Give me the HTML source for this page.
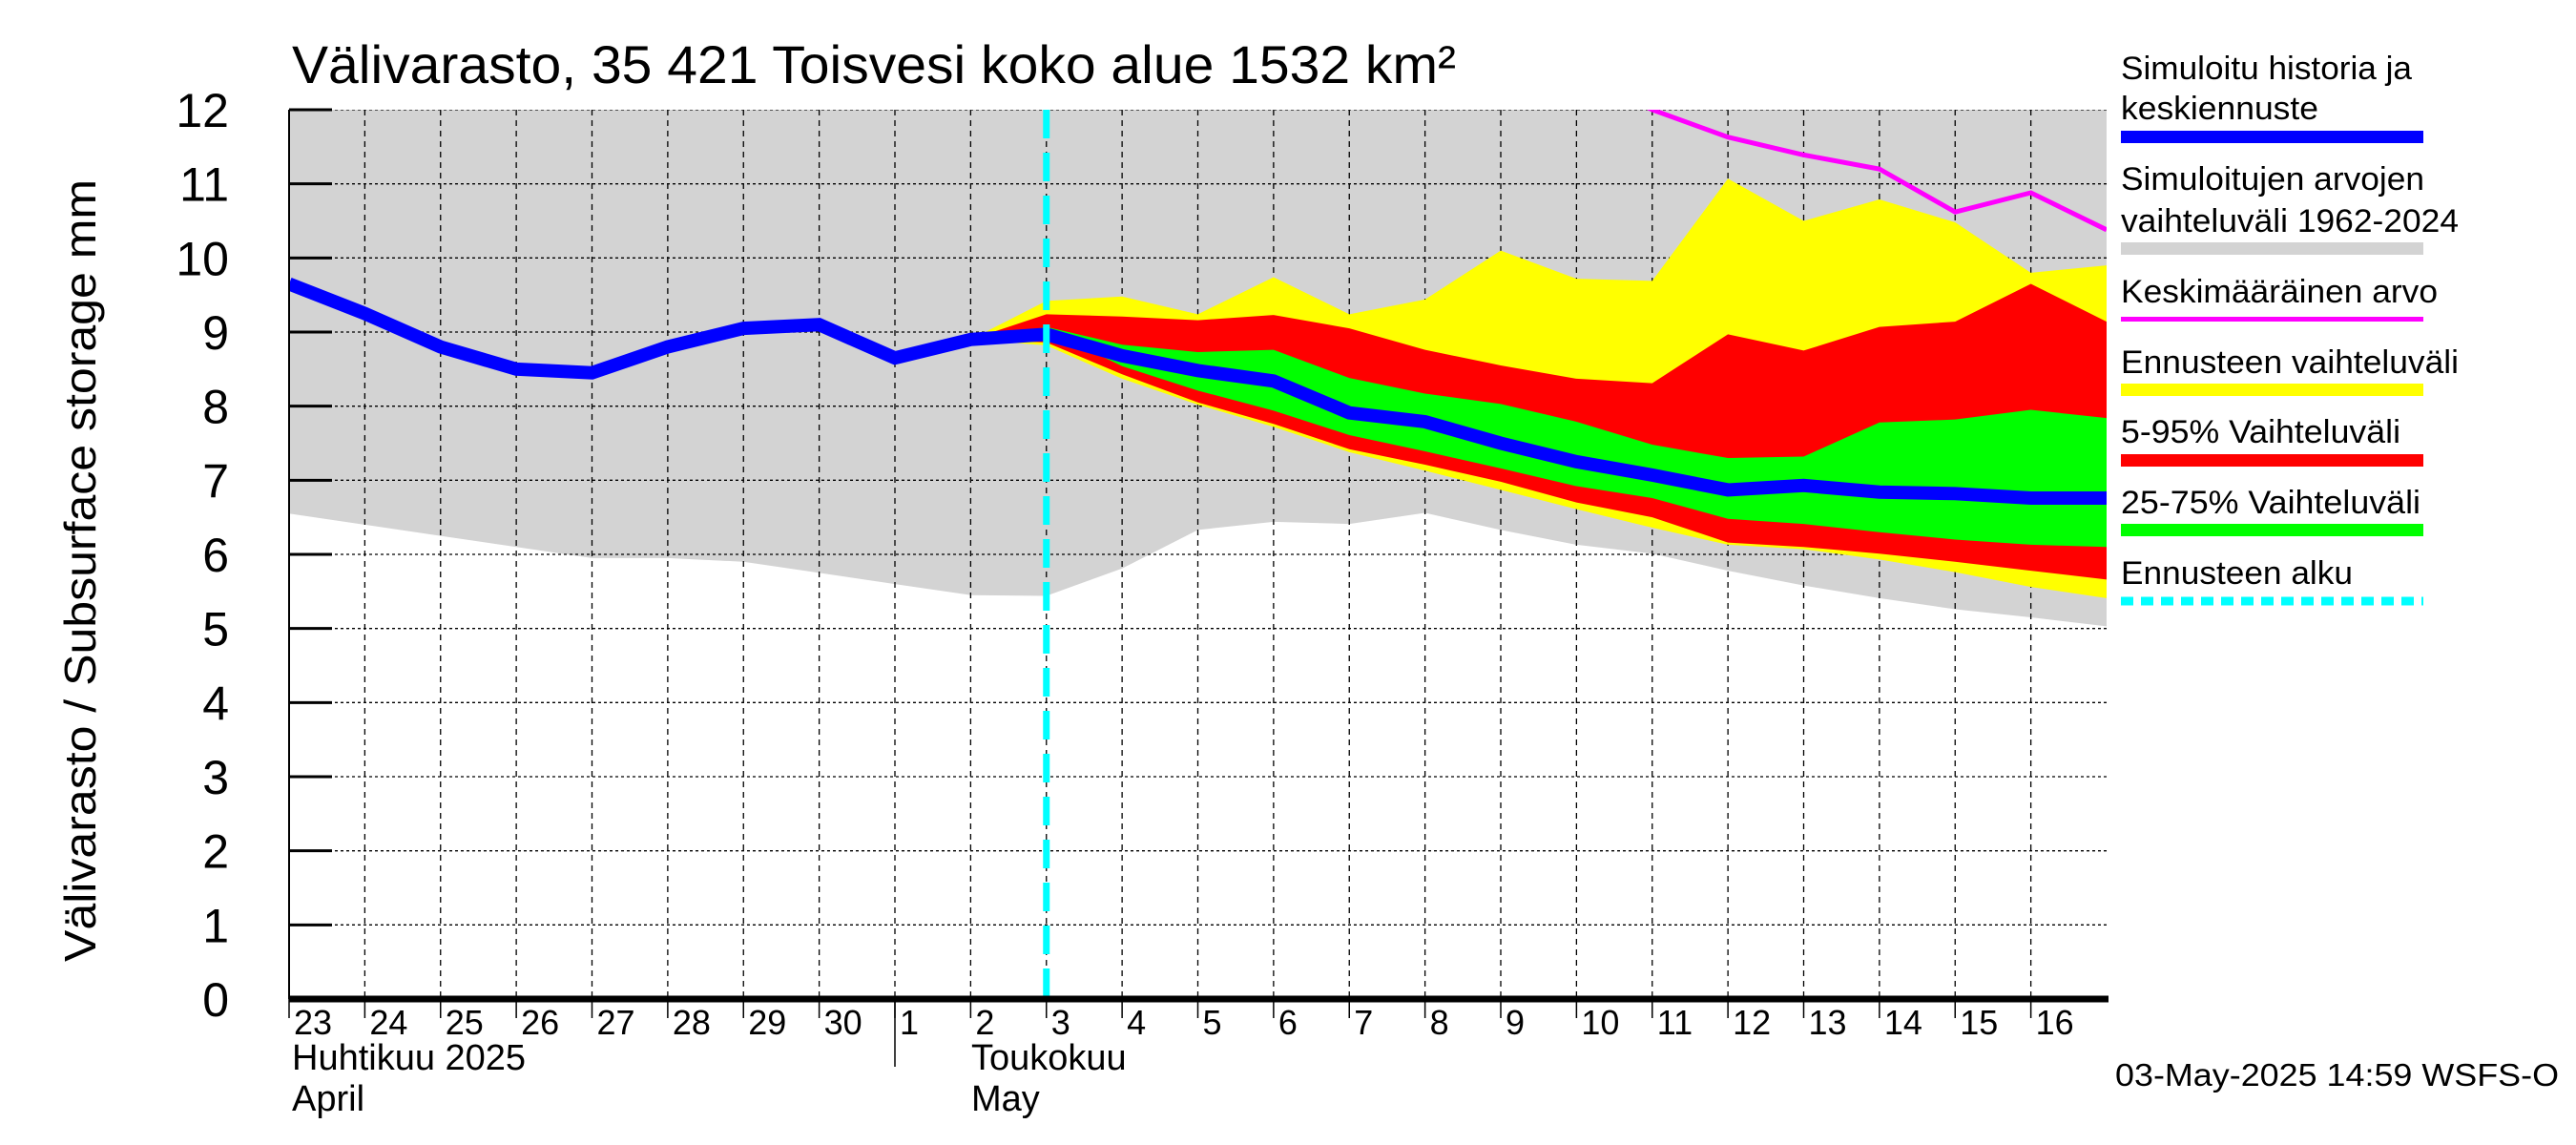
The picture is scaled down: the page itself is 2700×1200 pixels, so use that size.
<!DOCTYPE html>
<html><head><meta charset="utf-8"><style>
html,body{margin:0;padding:0;background:#fff;}
svg{display:block;font-family:"Liberation Sans",Arial,sans-serif;}
</style></head><body>
<svg id="chart" width="2700" height="1200" viewBox="0 0 2700 1200" xmlns="http://www.w3.org/2000/svg">
<text x="306" y="87" font-size="56" textLength="1220" lengthAdjust="spacingAndGlyphs">Välivarasto, 35 421 Toisvesi koko alue 1532 km²</text>
<text transform="translate(100,598) rotate(-90)" text-anchor="middle" font-size="46" textLength="820" lengthAdjust="spacingAndGlyphs">Välivarasto / Subsurface storage  mm</text>
<g id="plot"></g>
<g id="legend">
<text x="2223" y="83" font-size="34" textLength="305" lengthAdjust="spacingAndGlyphs">Simuloitu historia ja</text>
<text x="2223" y="125" font-size="34" textLength="207" lengthAdjust="spacingAndGlyphs">keskiennuste</text>
<rect x="2223" y="137" width="317" height="13" fill="#0000ff"/>
<text x="2223" y="199" font-size="34" textLength="318" lengthAdjust="spacingAndGlyphs">Simuloitujen arvojen</text>
<text x="2223" y="243" font-size="34" textLength="354" lengthAdjust="spacingAndGlyphs">vaihteluväli 1962-2024</text>
<rect x="2223" y="254" width="317" height="13" fill="#d3d3d3"/>
<text x="2223" y="317" font-size="34" textLength="332" lengthAdjust="spacingAndGlyphs">Keskimääräinen arvo</text>
<rect x="2223" y="332" width="317" height="5" fill="#ff00ff"/>
<text x="2223" y="391" font-size="34" textLength="354" lengthAdjust="spacingAndGlyphs">Ennusteen vaihteluväli</text>
<rect x="2223" y="402" width="317" height="13" fill="#ffff00"/>
<text x="2223" y="464" font-size="34" textLength="293" lengthAdjust="spacingAndGlyphs">5-95% Vaihteluväli</text>
<rect x="2223" y="476" width="317" height="13" fill="#ff0000"/>
<text x="2223" y="538" font-size="34" textLength="314" lengthAdjust="spacingAndGlyphs">25-75% Vaihteluväli</text>
<rect x="2223" y="549" width="317" height="13" fill="#00ff00"/>
<text x="2223" y="612" font-size="34" textLength="243" lengthAdjust="spacingAndGlyphs">Ennusteen alku</text>
<line x1="2223" y1="630" x2="2540" y2="630" stroke="#00ffff" stroke-width="9" stroke-dasharray="13,8"/>
</g>
<text x="306" y="1121" font-size="38">Huhtikuu  2025</text>
<text x="306" y="1164" font-size="38">April</text>
<text x="1018" y="1121" font-size="38">Toukokuu</text>
<text x="1018" y="1164" font-size="38">May</text>
<text x="2682" y="1138" font-size="33" text-anchor="end" textLength="465" lengthAdjust="spacingAndGlyphs">03-May-2025 14:59 WSFS-O</text>
</svg>
<script>
// Data (day index 0 = 23 Apr, 24 = 17 May)
const dayLabels = ["23","24","25","26","27","28","29","30","1","2","3","4","5","6","7","8","9","10","11","12","13","14","15","16"];
const yTicks = [0,1,2,3,4,5,6,7,8,9,10,11,12];
const blueVals = [9.65,9.25,8.8,8.5,8.45,8.8,9.05,9.1,8.65,8.9,8.97,8.68,8.48,8.34,7.91,7.79,7.5,7.25,7.07,6.87,6.93,6.84,6.82,6.76,6.76];
const grayMin = [6.55,6.4,6.25,6.1,5.95,5.95,5.9,5.75,5.6,5.45,5.44,5.81,6.33,6.44,6.41,6.56,6.33,6.13,6.01,5.78,5.58,5.41,5.26,5.15,5.03];
const grayMax = [13,13,13,13,13,13,13,13,13,13,13,13,13,13,13,13,13,13,13,13,13,13,13,13,13];
// forecast bands start at day 9 (2 May)
const fcStart = 9;
const ensMax = [8.9,9.42,9.48,9.24,9.74,9.24,9.44,10.1,9.72,9.69,11.07,10.5,10.79,10.48,9.8,9.9];
const p95 = [8.9,9.24,9.21,9.16,9.23,9.05,8.76,8.55,8.37,8.31,8.97,8.75,9.07,9.14,9.65,9.14];
const p75 = [8.9,9.07,8.83,8.73,8.76,8.38,8.17,8.03,7.79,7.48,7.30,7.32,7.78,7.82,7.95,7.84];
const p25 = [8.9,9.03,8.54,8.21,7.94,7.61,7.39,7.16,6.92,6.76,6.48,6.41,6.30,6.20,6.13,6.10];
const p5 = [8.9,8.86,8.43,8.05,7.76,7.42,7.21,6.98,6.70,6.50,6.16,6.10,6.01,5.90,5.78,5.66];
const ensMin = [8.9,8.82,8.37,8.02,7.72,7.38,7.13,6.87,6.61,6.36,6.13,6.07,5.93,5.76,5.56,5.41];
// mean curve starting at day 17 (10 May)
const meanStart = 17;
const meanVals = [12.5,12.0,11.63,11.39,11.2,10.62,10.88,10.38];
const forecastDay = 10;

const X0=303,X1=2208,Y0=1047,Y1=115,NDAYS=24,YMAX=12;
const xs = d => X0 + (X1-X0)*d/NDAYS;
const ys = v => Y0 - (Y0-Y1)*v/YMAX;
const NS="http://www.w3.org/2000/svg";
const plot=document.getElementById('plot');
function mk(tag,attrs,parent){const e=document.createElementNS(NS,tag);for(const k in attrs)e.setAttribute(k,attrs[k]);(parent||plot).appendChild(e);return e;}
const clip=mk('clipPath',{id:'pc'});mk('rect',{x:X0,y:Y1,width:X1-X0,height:Y0-Y1},clip);
const g=mk('g',{'clip-path':'url(#pc)'});


function band(up,lo,start,fill,name){
  let p=up.map((v,i)=>xs(start+i)+','+ys(v));
  let q=lo.map((v,i)=>xs(start+i)+','+ys(v)).reverse();
  const e=mk('polygon',{points:p.concat(q).join(' '),fill:fill},g);
  
  
}
band(grayMax,grayMin,0,'#d3d3d3','historical-range');
// grid
for(let d=1;d<NDAYS;d++){const l=mk('line',{x1:xs(d),x2:xs(d),y1:Y1,y2:Y0,stroke:'#000','stroke-width':1.3,'stroke-dasharray':'6,5'},g);

}
yTicks.forEach(v=>{if(v>0){const l=mk('line',{x1:X0,x2:X1,y1:ys(v),y2:ys(v),stroke:'#000','stroke-width':1.3,'stroke-dasharray':'3,3'},g);

}});
band(ensMax,ensMin,fcStart,'#ffff00','ensemble-range');
band(p95,p5,fcStart,'#ff0000','band-5-95');
band(p75,p25,fcStart,'#00ff00','band-25-75');
const mean=mk('polyline',{points:meanVals.map((v,i)=>xs(meanStart+i)+','+ys(v)).join(' '),fill:'none',stroke:'#ff00ff','stroke-width':5},g);


const blue=mk('polyline',{points:blueVals.map((v,i)=>xs(i)+','+ys(v)).join(' '),fill:'none',stroke:'#0000ff','stroke-width':14,'stroke-linejoin':'miter'},g);


const cy=mk('line',{x1:xs(forecastDay),x2:xs(forecastDay),y1:Y1,y2:Y0,stroke:'#00ffff','stroke-width':7,'stroke-dasharray':'30,15'});


// axes
const ax=mk('line',{x1:X0,x2:X1+2,y1:Y0,y2:Y0,stroke:'#000','stroke-width':7});


const ay=mk('line',{x1:X0,x2:X0,y1:Y1,y2:Y0,stroke:'#000','stroke-width':2});


yTicks.forEach(v=>{
  const t=mk('line',{x1:X0,x2:X0+45,y1:ys(v),y2:ys(v),stroke:'#000','stroke-width':3});
  
  
  const tx=mk('text',{x:240,y:ys(v)+18,'font-size':50,'text-anchor':'end'});
  tx.textContent=String(v);
  
  
});
dayLabels.forEach((s,i)=>{
  const t=mk('line',{x1:xs(i),x2:xs(i),y1:Y0,y2:Y0+20,stroke:'#000','stroke-width':1.5});
  
  
  const tx=mk('text',{x:xs(i)+5,y:1084,'font-size':36});
  tx.textContent=s;
  
  
});
const ms=mk('line',{x1:xs(8),x2:xs(8),y1:Y0,y2:1118,stroke:'#000','stroke-width':1.5});


</script>
</body></html>
